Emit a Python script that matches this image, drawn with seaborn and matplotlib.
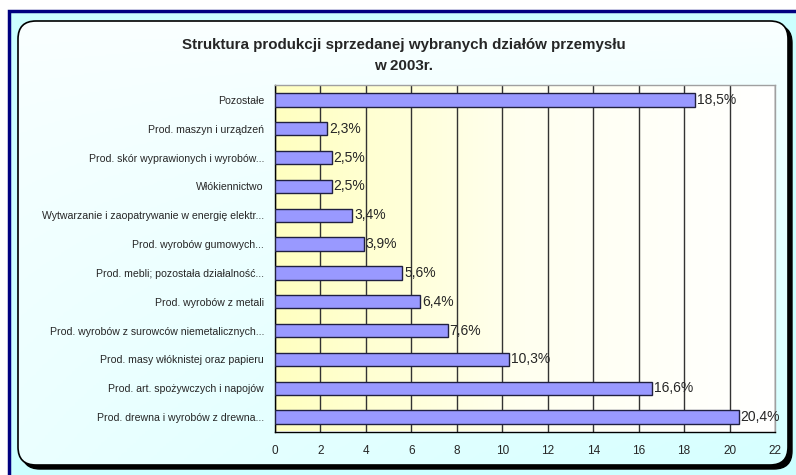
import numpy as np
import pandas as pd
import matplotlib
matplotlib.use("Agg")
import matplotlib.pyplot as plt
import seaborn as sns
from matplotlib import font_manager
from matplotlib.patches import FancyBboxPatch, Rectangle
from matplotlib.ticker import FixedLocator

categories = [
    "Pozostałe",
    "Prod. maszyn i urządzeń",
    "Prod. skór wyprawionych i wyrobów...",
    "Włókiennictwo",
    "Wytwarzanie i zaopatrywanie w energię elektr...",
    "Prod. wyrobów gumowych...",
    "Prod. mebli; pozostała działalność...",
    "Prod. wyrobów z metali",
    "Prod. wyrobów z surowców niemetalicznych...",
    "Prod. masy włóknistej oraz papieru",
    "Prod. art. spożywczych i napojów",
    "Prod. drewna i wyrobów z drewna...",
]
shares = [18.5, 2.3, 2.5, 2.5, 3.4, 3.9, 5.6, 6.4, 7.6, 10.3, 16.6, 20.4]
x_ticks = list(range(0, 23, 2))
title = "Struktura produkcji sprzedanej wybranych działów przemysłu\nw 2003r."

df = pd.DataFrame({"dzial": categories, "udzial": shares})

sns.set_style("white")
plt.rcParams['font.family'] = ['Liberation Sans', 'DejaVu Sans']

# narrow title font if there is one
installed = {f.name for f in font_manager.fontManager.ttflist}
if "Liberation Sans Narrow" in installed:
    title_font, title_size = ["Liberation Sans Narrow", "DejaVu Sans"], 13
else:
    title_font, title_size = ["Liberation Sans", "DejaVu Sans"], 10.9

W, H = 796, 475
fig = plt.figure(figsize=(W / 100, H / 100), dpi=100)
fig.patch.set_facecolor("white")

# frame drawn in pixel coords
bg = fig.add_axes([0, 0, 1, 1], zorder=-5)
bg.set_xlim(0, W)
bg.set_ylim(H, 0)
bg.axis("off")
bg.add_patch(Rectangle((9, 11), W, H, facecolor="#ccffff", edgecolor="#000080", lw=2.5))
# shadow
bg.add_patch(FancyBboxPatch((22, 25), 770, 444, boxstyle="round,pad=0,rounding_size=18",
                            facecolor="black", edgecolor="black", lw=1))
box = FancyBboxPatch((18, 21), 770, 444, boxstyle="round,pad=0,rounding_size=18",
                     facecolor="none", edgecolor="black", lw=1.2, zorder=3)
grad = np.linspace(0, 1, 256).reshape(-1, 1) * np.linspace(0.3, 1, 256).reshape(1, -1)
cmap = matplotlib.colors.LinearSegmentedColormap.from_list("c", ["#fbffff", "#d6ffff"])
im = bg.imshow(grad ** 0.7, cmap=cmap, extent=(18, 788, 465, 21), aspect="auto", zorder=2)
clip = FancyBboxPatch((18, 21), 770, 444, boxstyle="round,pad=0,rounding_size=18",
                      facecolor="none", edgecolor="none", transform=bg.transData)
bg.add_patch(clip)
im.set_clip_path(clip)
bg.add_patch(box)

fig.text(404 / W, 1 - 55.5 / H, title, ha="center", va="center", fontsize=title_size,
         fontweight="bold", linespacing=1.6, family=title_font)

ax = fig.add_axes([275 / W, 1 - 431.5 / H, 500 / W, (431.5 - 85.5) / H])
ax.set_xlim(0, 22)

# yellow-to-white plot background
plot_grad = np.linspace(0, 1, 256).reshape(1, -1)
pcmap = matplotlib.colors.LinearSegmentedColormap.from_list("p", ["#ffffc0", "#fffff0", "#ffffff"])
ax.imshow(plot_grad, cmap=pcmap, extent=(0, 1, 0, 1), transform=ax.transAxes,
          aspect="auto", zorder=0)

sns.barplot(data=df, x="udzial", y="dzial", orient="h", ax=ax, color="#9999ff",
            edgecolor="#202040", linewidth=1, width=0.46, saturation=1, zorder=3)
ax.set_xlim(0, 22)
ax.set_ylim(len(categories) - 0.5, -0.5)

for i, v in enumerate(shares):
    ax.text(v + 0.08, i, f"{v:.1f}".replace(".", ",") + "%", va="center", ha="left",
            fontsize=10, zorder=5)

ax.xaxis.set_major_locator(FixedLocator(x_ticks))
ax.grid(axis="x", color="#333333", lw=1, zorder=1)
ax.set_axisbelow(True)
ax.set_xlabel("")
ax.set_ylabel("")
ax.tick_params(axis="x", direction="inout", length=8, width=1, labelsize=8.5, pad=6)
ax.tick_params(axis="y", which="major", length=0, labelsize=7.6, pad=8)
ax.yaxis.set_minor_locator(FixedLocator(np.arange(-0.5, len(categories), 1)))
ax.tick_params(axis="y", which="minor", direction="out", length=5, width=1)
for s in ["left", "bottom"]:
    ax.spines[s].set_color("black")
    ax.spines[s].set_linewidth(1)
for s in ["top", "right"]:
    ax.spines[s].set_color("#a0a0a0")
    ax.spines[s].set_linewidth(1)
    ax.spines[s].set_visible(True)

fig.savefig("out.png", dpi=100)
